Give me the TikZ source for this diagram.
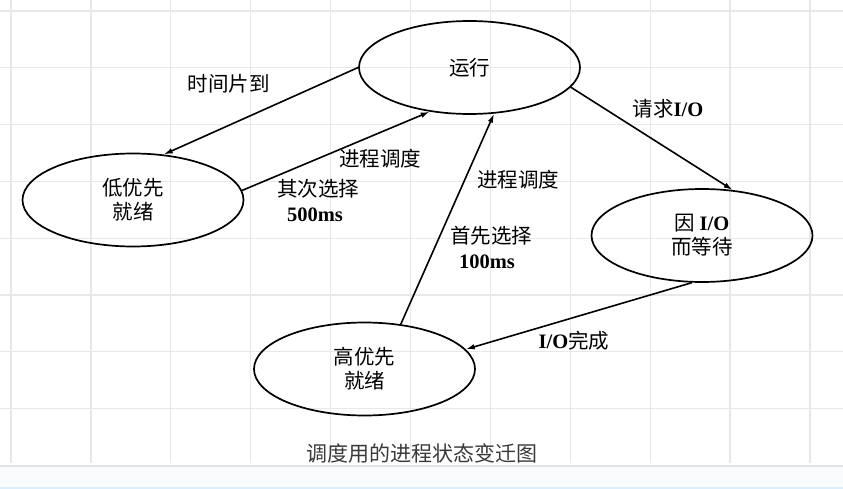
\documentclass[tikz,border=0pt]{standalone}
\usepackage{fontspec}
\setmainfont{Noto Sans CJK SC}
\newfontfamily\serifb{Liberation Serif}
\newcommand\bl[1]{{\serifb\bfseries #1}}
\usetikzlibrary{shapes.geometric,arrows.meta}
\definecolor{gridc}{HTML}{E8E8E8}
\definecolor{bandc}{HTML}{FAFBFC}
\definecolor{bandline}{HTML}{E2E2E2}
\definecolor{bluel}{HTML}{DCEEFC}
\definecolor{capc}{HTML}{3A3A3A}
\tikzset{
  state/.style={ellipse, draw, line width=1.7pt, minimum width=221pt,
    minimum height=93pt, inner sep=0pt, align=center,
    font=\fontsize{20.5}{24}\selectfont},
  arr/.style={line width=1.6pt, -{Latex[length=9pt,width=5.5pt]}},
  lab/.style={font=\fontsize{20.5}{24}\selectfont, inner sep=0pt, align=center},
}
\begin{document}
\begin{tikzpicture}[x=1pt,y=-1pt]
\useasboundingbox (0,0) rectangle (843,489);
\fill[white] (0,0) rectangle (843,489);
% background grid
\foreach \i in {0,...,10} \draw[gridc, line width=1.3pt] (11+79.9*\i,0) -- (11+79.9*\i,463);
\foreach \j in {0,...,7} \draw[gridc, line width=1.3pt] (0,11+56.8*\j) -- (843,11+56.8*\j);
% bottom band
\fill[bandc] (0,466) rectangle (843,489);
\draw[bandline, line width=1.3pt] (0,466) -- (843,466);
\draw[bluel, line width=1.5pt] (0,488) -- (843,488);

% states
\node[state] (run)  at (469.5,67.5) {运行};
\node[state] (low)  at (133,200)    {低优先\\就绪};
\node[state] (io)   at (702,235.5)  {因 \bl{I/O}\\而等待};
\node[state] (high) at (364.5,369)  {高优先\\就绪};

% transitions
\draw[arr] (run.180) -- (low.56);
\draw[arr] (low.5) -- (run.228);
\draw[arr] (high.51) -- (run.298);
\draw[arr] (run.-11.5) -- (io.56);
\draw[arr] (io.258) -- (high.11.6);

% transition labels
\node[lab] (l1) at (228.5,83.5) {时间片到};
\node[lab] (l2) at (380,159) {进程调度};
\node[lab] (l3) at (318,189) {其次选择};
\node[lab] (l4) at (315,215) {\bl{500ms}};
\node[lab] (l5) at (518,180) {进程调度};
\node[lab] (l6) at (491,236) {首先选择};
\node[lab] (l7) at (487,262) {\bl{100ms}};
\node[lab] (l8) at (668,109) {请求\bl{I/O}};
\node[lab] (l9) at (574,341) {\bl{I/O}完成};

% caption
\node[lab, text=capc, font=\fontsize{21}{24}\selectfont] (cap) at (422,453) {调度用的进程状态变迁图};
\end{tikzpicture}
\end{document}
